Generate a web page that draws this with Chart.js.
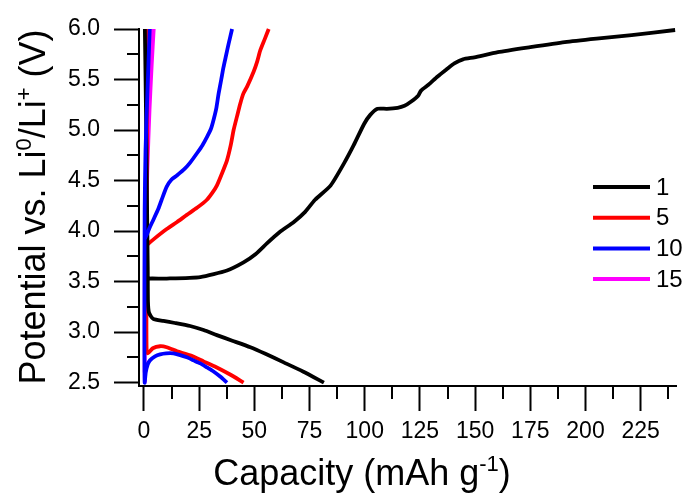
<!DOCTYPE html>
<html>
<head>
<meta charset="utf-8">
<script src="https://cdn.jsdelivr.net/npm/chart.js@4.4.1/dist/chart.umd.min.js"></script>
<style>
  html, body { margin: 0; padding: 0; background: #fff; }
  #wrap { width: 684px; height: 493px; }
</style>
</head>
<body>
<div id="wrap"><canvas id="chart"></canvas></div>
<script>
// cycle numbers and colours
const cycleLabels = ['1', '5', '10', '15'];
const cycleColors = ['#000000', '#ff0000', '#0000ff', '#ff00ff'];

// cycle 1
const cap1Charge = [1.0, 1.8, 10.3, 25.5, 37.6, 45.1, 50.5, 55.8, 61.5, 67.9, 73, 77.5, 84.5, 90.6, 95, 99.7, 102.5, 105.8, 110, 114.9, 118, 120.9, 124.2, 125.5, 129, 133, 137, 140.6, 144.5, 149.7, 160.3, 175, 190.6, 205, 220.9, 240.6];
const v1Charge   = [3.52, 3.53, 3.53, 3.545, 3.61, 3.69, 3.77, 3.88, 3.99, 4.09, 4.19, 4.31, 4.45, 4.67, 4.85, 5.06, 5.15, 5.21, 5.21, 5.22, 5.24, 5.28, 5.34, 5.39, 5.45, 5.53, 5.60, 5.66, 5.70, 5.72, 5.77, 5.82, 5.87, 5.905, 5.94, 5.99];
const cap1Dis = [0.4, 0.9, 1.3, 1.7, 1.8, 2.3, 4.2, 8.8, 14, 20.9, 27, 33, 40, 48.2, 55, 63.3, 72, 81.5];
const v1Dis   = [6.0, 5.2, 4.4, 3.64, 3.3, 3.19, 3.13, 3.11, 3.09, 3.06, 3.02, 2.97, 2.915, 2.85, 2.785, 2.70, 2.61, 2.5];

// cycle 5
const cap5Charge = [0.3, 1.2, 5, 10.3, 15, 19.4, 24, 28.5, 31, 33, 35.5, 37.6, 39.3, 40.6, 42.2, 43.6, 45, 46.7, 49.7, 51.3, 52.7, 54.7, 56.5];
const v5Charge   = [3.84, 3.86, 3.93, 4.02, 4.09, 4.16, 4.23, 4.31, 4.38, 4.45, 4.58, 4.70, 4.85, 5.0, 5.14, 5.26, 5.36, 5.43, 5.58, 5.68, 5.79, 5.90, 6.0];
const cap5Dis = [1.5, 1.2, 1.1, 1.2, 1.7, 4, 7.3, 10.3, 15, 20.9, 27, 33, 39, 45.1];
const v5Dis   = [6.0, 4.5, 3.2, 2.82, 2.79, 2.84, 2.86, 2.85, 2.81, 2.77, 2.71, 2.65, 2.58, 2.5];

// cycle 10
const cap10Charge = [0.3, 1.2, 2.5, 4.2, 6.5, 8, 10.3, 12.5, 14.9, 18.6, 21, 24, 26.5, 28.5, 30.3, 31.5, 32.8, 33.8, 35, 36, 37.2, 38.3, 39.9];
const v10Charge   = [3.92, 3.96, 4.03, 4.11, 4.22, 4.31, 4.44, 4.51, 4.55, 4.62, 4.68, 4.77, 4.85, 4.93, 5.01, 5.10, 5.22, 5.36, 5.50, 5.62, 5.74, 5.85, 6.0];
const cap10Dis = [2.6, 1.6, 0.7, 0.3, 0.2, 0.3, 0.8, 1.7, 2.7, 5, 7.3, 10, 13.3, 16, 19.4, 22.5, 25.5, 28.5, 31.5, 34.5, 37.6];
const v10Dis   = [6.0, 5.4, 4.8, 4.2, 3.0, 2.5, 2.6, 2.68, 2.72, 2.76, 2.78, 2.79, 2.79, 2.775, 2.75, 2.72, 2.69, 2.65, 2.61, 2.56, 2.5];

// cycle 15
const cap15Charge = [0.3, 0.5, 0.9, 1.5, 2.5, 3.5, 4.4];
const v15Charge   = [2.6, 3.3, 4.0, 4.6, 5.2, 5.65, 6.0];
const cap15Dis = [3.0, 1.8, 0.9, 0.4, 0.3, 0.4];
const v15Dis   = [6.0, 5.3, 4.6, 3.8, 3.0, 2.5];

// axis ticks
const xMajor = [0, 25, 50, 75, 100, 125, 150, 175, 200, 225];
const xMinor = [12.5, 37.5, 62.5, 87.5, 112.5, 137.5, 162.5, 187.5, 212.5, 237.5];
const yMajor = [2.5, 3.0, 3.5, 4.0, 4.5, 5.0, 5.5, 6.0];
const yMinor = [2.75, 3.25, 3.75, 4.25, 4.75, 5.25, 5.75];

function toPoints(caps, volts) {
  return caps.map((c, i) => ({ x: c, y: volts[i] }));
}

// charge and discharge in one dataset, split by a gap
function cyclePoints(cc, vc, cd, vd) {
  return toPoints(cc, vc).concat([{ x: 0, y: null }], toPoints(cd, vd));
}

const cycles = [
  cyclePoints(cap1Charge, v1Charge, cap1Dis, v1Dis),
  cyclePoints(cap5Charge, v5Charge, cap5Dis, v5Dis),
  cyclePoints(cap10Charge, v10Charge, cap10Dis, v10Dis),
  cyclePoints(cap15Charge, v15Charge, cap15Dis, v15Dis)
];
const drawOrder = [1, 2, 0, 3];

const FONT = '"Liberation Sans", Arial, sans-serif';

function drawRich(ctx, parts, x, y, size) {
  const supSize = Math.round(size * 0.62);
  let total = 0;
  parts.forEach(p => {
    ctx.font = (p.sup ? supSize : size) + 'px ' + FONT;
    p.w = ctx.measureText(p.t).width;
    total += p.w;
  });
  let cx = x - total / 2;
  ctx.textAlign = 'left';
  ctx.textBaseline = 'alphabetic';
  parts.forEach(p => {
    ctx.font = (p.sup ? supSize : size) + 'px ' + FONT;
    ctx.fillText(p.t, cx, p.sup ? y - size * 0.38 : y);
    cx += p.w;
  });
}

const extrasPlugin = {
  id: 'extras',
  afterDraw(chart) {
    const ctx = chart.ctx;
    const xs = chart.scales.x, ys = chart.scales.y, area = chart.chartArea;
    ctx.save();
    ctx.strokeStyle = '#000';
    ctx.lineWidth = 2;
    // minor ticks
    xMinor.forEach(v => {
      const px = Math.round(xs.getPixelForValue(v));
      ctx.beginPath(); ctx.moveTo(px, area.bottom); ctx.lineTo(px, area.bottom + 13); ctx.stroke();
    });
    yMinor.forEach(v => {
      const py = Math.round(ys.getPixelForValue(v));
      ctx.beginPath(); ctx.moveTo(area.left, py); ctx.lineTo(area.left - 12, py); ctx.stroke();
    });

    // axis titles
    ctx.fillStyle = '#000';
    drawRich(ctx, [{ t: 'Capacity (mAh g' }, { t: '-1', sup: true }, { t: ')' }], 362, 485, 36);
    ctx.save();
    ctx.translate(45, 207);
    ctx.rotate(-Math.PI / 2);
    drawRich(ctx, [{ t: 'Potential vs. Li' }, { t: '0', sup: true }, { t: '/Li' }, { t: '+', sup: true }, { t: ' (V)' }], 0, 0, 36);
    ctx.restore();

    // legend
    const legendTop = 187, legendStep = 30.7;
    chart.data.datasets.forEach((ds, i) => {
      const y = legendTop + i * legendStep;
      ctx.strokeStyle = ds.borderColor;
      ctx.lineWidth = 4;
      ctx.beginPath(); ctx.moveTo(593, y); ctx.lineTo(650, y); ctx.stroke();
      ctx.fillStyle = '#000';
      ctx.font = '24px ' + FONT;
      ctx.textAlign = 'left';
      ctx.textBaseline = 'middle';
      ctx.fillText(ds.label, 656, y + 1);
    });
    ctx.restore();
  }
};

new Chart(document.getElementById('chart'), {
  type: 'line',
  data: {
    datasets: cycles.map((pts, i) => ({
      label: cycleLabels[i],
      data: pts,
      borderColor: cycleColors[i],
      backgroundColor: cycleColors[i],
      borderWidth: 3.8,
      pointRadius: 0,
      tension: 0.2,
      fill: false,
      clip: false,
      spanGaps: false,
      order: drawOrder[i]
    }))
  },
  options: {
    responsive: true,
    maintainAspectRatio: false,
    animation: false,
    layout: { padding: { top: 29, right: 8, bottom: 0, left: 0 } },
    plugins: {
      legend: { display: false },
      tooltip: { enabled: false }
    },
    scales: {
      x: {
        type: 'linear',
        min: -2.26,
        max: 241,
        afterBuildTicks(scale) {
          scale.ticks = xMajor.map(v => ({ value: v }));
        },
        afterFit(scale) { scale.height = 107; },
        border: { display: true, color: '#000', width: 2 },
        grid: {
          drawOnChartArea: false,
          drawTicks: true,
          tickLength: 25,
          tickWidth: 2,
          tickColor: '#000'
        },
        ticks: {
          autoSkip: false,
          maxRotation: 0,
          padding: 7,
          color: '#000',
          font: { family: FONT, size: 23 },
          callback: v => String(v)
        }
      },
      y: {
        type: 'linear',
        min: 2.4664,
        max: 6.0,
        afterBuildTicks(scale) {
          scale.ticks = yMajor.map(v => ({ value: v }));
        },
        afterFit(scale) { scale.width = 139; },
        border: { display: true, color: '#000', width: 2 },
        grid: {
          drawOnChartArea: false,
          drawTicks: true,
          tickLength: 25,
          tickWidth: 2,
          tickColor: '#000'
        },
        ticks: {
          autoSkip: false,
          padding: 14,
          color: '#000',
          font: { family: FONT, size: 23 },
          callback: v => v.toFixed(1)
        }
      }
    }
  },
  plugins: [extrasPlugin]
});
</script>
</body>
</html>
